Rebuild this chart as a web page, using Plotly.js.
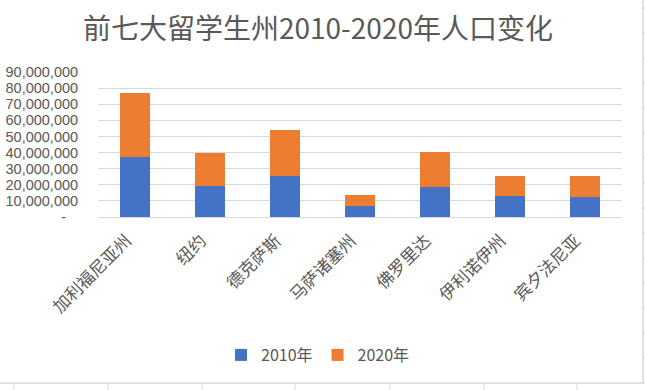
<!DOCTYPE html>
<html>
<head>
<meta charset="utf-8">
<script src="https://cdn.plot.ly/plotly-3.0.1.min.js"></script>
<style>html,body{margin:0;padding:0;background:#fff;}#chart{width:645px;height:390px;}</style>
</head>
<body>
<div id="chart"></div>
<script>
const categories = ["加利福尼亚州", "纽约", "德克萨斯", "马萨诸塞州", "佛罗里达", "伊利诺伊州", "宾夕法尼亚"];
const pop2010 = [37250000, 19380000, 25150000, 6550000, 18800000, 12830000, 12700000];
const pop2020 = [39540000, 20200000, 29150000, 7030000, 21540000, 12810000, 13000000];
const seriesNames = ["2010年", "2020年"];
const yTickVals = [0, 10000000, 20000000, 30000000, 40000000, 50000000, 60000000, 70000000, 80000000, 90000000];
const yTickText = ["-\u00a0\u00a0\u00a0", "10,000,000", "20,000,000", "30,000,000", "40,000,000", "50,000,000", "60,000,000", "70,000,000", "80,000,000", "90,000,000"];
const chartTitle = "前七大留学生州2010-2020年人口变化";

const cjk = "'Noto Sans CJK SC', 'Noto Sans', sans-serif";
const grey = "#595959";

const traces = [
  {type: "bar", name: seriesNames[0], x: categories, y: pop2010, marker: {color: "#4472C4"}, hoverinfo: "none"},
  {type: "bar", name: seriesNames[1], x: categories, y: pop2020, marker: {color: "#ED7D31"}, hoverinfo: "none"}
];

// decorative spreadsheet cell borders around the chart
const shapes = [];
const lineCol = "#d9d9d9";
const W = 645, H = 390, L = 98, R = 23, T = 72, B = 173;
const pw = W - L - R, ph = H - T - B;
function px(x){ return (x - L) / pw; }
function py(y){ return (H - B - y) / ph; }
shapes.push({type:"line", xref:"paper", yref:"paper", x0:px(643), x1:px(643), y0:py(0), y1:py(383), line:{color:lineCol, width:1.5}});
shapes.push({type:"line", xref:"paper", yref:"paper", x0:px(0), x1:px(645), y0:py(383), y1:py(383), line:{color:lineCol, width:1.5}});
[14, 108, 202, 295, 390, 484, 577].forEach(function(x){
  shapes.push({type:"line", xref:"paper", yref:"paper", x0:px(x), x1:px(x), y0:py(383), y1:py(390), line:{color:lineCol, width:1}});
});
[8, 33, 58, 83, 108, 133, 158, 183, 208, 233, 258, 283, 308, 333, 358].forEach(function(y){
  shapes.push({type:"line", xref:"paper", yref:"paper", x0:px(643), x1:px(645), y0:py(y), y1:py(y), line:{color:lineCol, width:1}});
});

const layout = {
  width: W, height: H,
  margin: {l: L, r: R, t: T, b: B, pad: 0},
  paper_bgcolor: "#fff", plot_bgcolor: "#fff",
  barmode: "stack",
  bargap: 0.6,
  title: {text: chartTitle, font: {family: cjk, size: 28, color: grey}, x: 0.493, xanchor: "center", y: 0.925, yanchor: "middle"},
  font: {family: cjk, color: grey},
  xaxis: {
    type: "category",
    tickangle: -45,
    tickfont: {family: cjk, size: 17, color: grey},
    showline: true, linecolor: "#d9d9d9", linewidth: 1,
    showgrid: false, zeroline: false,
    ticks: "outside", ticklen: 6, tickcolor: "rgba(0,0,0,0)",
    ticklabelshift: -9,
    fixedrange: true
  },
  yaxis: {
    range: [0, 90000000],
    tickvals: yTickVals, ticktext: yTickText,
    tickfont: {family: "'Liberation Sans', sans-serif", size: 14.5, color: grey},
    showgrid: true, gridcolor: "#d9d9d9", gridwidth: 1,
    zeroline: false, showline: false,
    ticks: "outside", ticklen: 16, tickcolor: "rgba(0,0,0,0)",
    fixedrange: true
  },
  showlegend: true,
  legend: {
    orientation: "h", x: px(318), xanchor: "center", y: py(355), yanchor: "middle",
    font: {family: cjk, size: 16, color: grey},
    itemwidth: 30, traceorder: "normal", bgcolor: "rgba(0,0,0,0)"
  },
  shapes: shapes
};

Plotly.newPlot("chart", traces, layout, {displayModeBar: false, staticPlot: true});
</script>
</body>
</html>
